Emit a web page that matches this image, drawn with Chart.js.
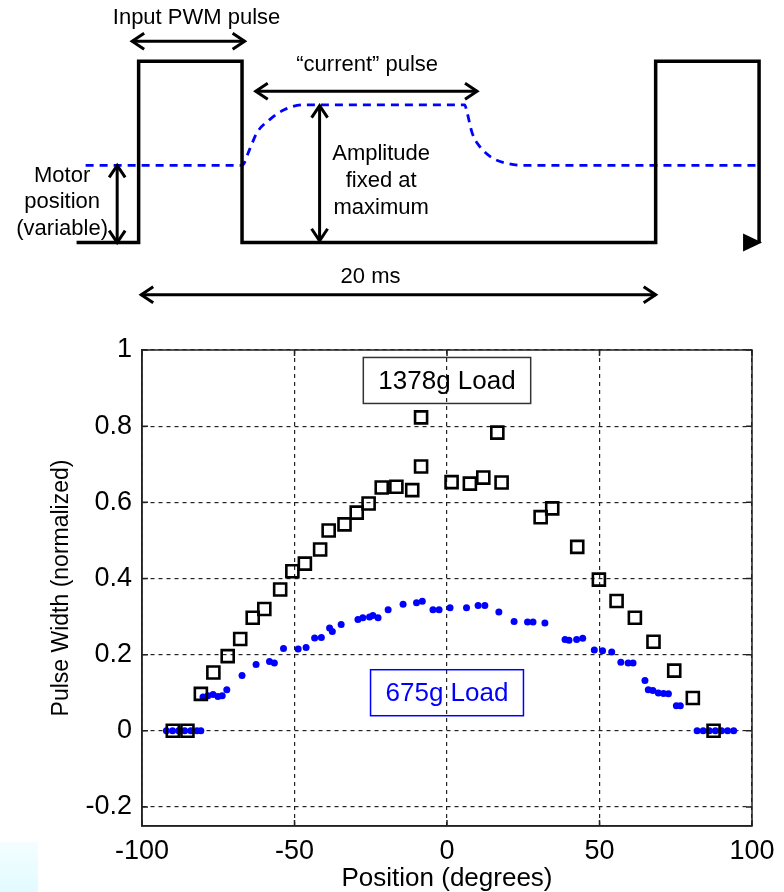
<!DOCTYPE html>
<html lang="en">
<head>
<meta charset="UTF-8">
<title>Servo pulse width vs position</title>
<script src="https://cdn.jsdelivr.net/npm/chart.js"></script>
<style>
  html, body { margin: 0; padding: 0; background: #fff; }
  body { width: 784px; height: 892px; position: relative; overflow: hidden; }
  #wave { position: absolute; left: 0; top: 0; }
  #plot { position: absolute; left: 0; top: 310px; }
  .corner { position: absolute; left: 0; top: 842px; width: 38px; height: 50px; background: linear-gradient(#f4feff, #e2fbff); }
</style>
</head>
<body>
<div class="corner"></div>
<canvas id="wave" width="784" height="310"></canvas>
<canvas id="plot" width="784" height="582"></canvas>
<script>
// --- timing diagram (time in ms, normalized level) ---
const pwmTime  = [-2.4, 0, 0, 4, 4, 20, 20, 24, 24];
const pwmLevel = [0, 0, 1, 1, 0, 0, 1, 1, 0];
const currentTime  = [-2.05, 4.0, 4.29, 4.58, 5.07, 5.65, 6.42, 12.61, 12.71, 12.9, 13.19, 13.68, 14.16, 14.84, 24.0];
const currentLevel = [0.426, 0.426, 0.513, 0.607, 0.678, 0.734, 0.76, 0.76, 0.715, 0.605, 0.531, 0.467, 0.44, 0.426, 0.426];

// --- measured pulse width vs position ---
const heavyPos   = [-89.9, -85.1, -80.7, -76.6, -71.9, -67.8, -63.7, -59.9, -54.7, -50.7, -46.6, -41.6, -38.8, -33.6, -29.6, -25.7, -21.4, -16.6, -11.4, -8.5, -8.5, 1.5, 7.5, 11.9, 16.5, 17.9, 30.7, 34.5, 42.7, 49.8, 55.6, 61.6, 67.7, 74.5, 80.6, 87.4];
const heavyWidth = [0, 0, 0.097, 0.153, 0.196, 0.241, 0.297, 0.320, 0.371, 0.419, 0.439, 0.476, 0.526, 0.542, 0.573, 0.597, 0.639, 0.641, 0.632, 0.694, 0.823, 0.653, 0.649, 0.665, 0.783, 0.652, 0.561, 0.584, 0.483, 0.397, 0.341, 0.297, 0.234, 0.158, 0.086, 0];
const lightPos   = [-92, -90, -88, -86, -84, -82, -80.7, -80, -78.4, -76.7, -75.1, -73.7, -72.2, -67.2, -62.6, -58.2, -56.6, -53.6, -48.8, -46.2, -43.4, -41.2, -38.5, -37.6, -34.7, -29.2, -27.6, -25.4, -24.3, -22.6, -19.3, -14.4, -10.0, -8.1, -4.6, -2.6, 1.0, 6.4, 10.2, 12.4, 17.0, 22.0, 26.4, 28.2, 32.1, 38.7, 40.0, 42.5, 44.5, 48.3, 51.0, 54.0, 57.0, 59.4, 61.0, 64.9, 66.0, 67.5, 69.3, 71.0, 72.6, 75.2, 76.5, 82, 84, 86, 88, 90, 92, 94];
const lightWidth = [0, 0, 0, 0, 0, 0, 0, 0.089, 0.092, 0.095, 0.090, 0.092, 0.108, 0.145, 0.174, 0.182, 0.178, 0.216, 0.215, 0.219, 0.244, 0.245, 0.270, 0.261, 0.279, 0.292, 0.297, 0.299, 0.303, 0.297, 0.318, 0.332, 0.336, 0.340, 0.318, 0.318, 0.323, 0.323, 0.329, 0.329, 0.312, 0.287, 0.286, 0.286, 0.283, 0.240, 0.238, 0.240, 0.243, 0.212, 0.210, 0.207, 0.180, 0.178, 0.178, 0.132, 0.108, 0.106, 0.099, 0.098, 0.097, 0.066, 0.066, 0, 0, 0, 0, 0, 0, 0];
const posTicks   = [-100, -50, 0, 50, 100];
const widthTicks = [-0.2, 0, 0.2, 0.4, 0.6, 0.8, 1];

const FONT = "'Liberation Sans', Arial, Helvetica, sans-serif";
const BLUE = '#0000ff';

const pts = (xs, ys) => xs.map((x, i) => ({ x: x, y: ys[i] }));

// arrow helpers
function head(ctx, x, y, ang) {
  const L = 12, W = 8;
  ctx.beginPath();
  ctx.moveTo(x - L * Math.cos(ang) + W * Math.sin(ang), y - L * Math.sin(ang) - W * Math.cos(ang));
  ctx.lineTo(x, y);
  ctx.lineTo(x - L * Math.cos(ang) - W * Math.sin(ang), y - L * Math.sin(ang) + W * Math.cos(ang));
  ctx.stroke();
}
function dblArrow(ctx, x1, y1, x2, y2) {
  ctx.beginPath(); ctx.moveTo(x1, y1); ctx.lineTo(x2, y2); ctx.stroke();
  const a = Math.atan2(y2 - y1, x2 - x1);
  head(ctx, x2, y2, a);
  head(ctx, x1, y1, a + Math.PI);
}

// labels + arrows of the timing diagram, placed in data units
const waveNotes = {
  id: 'waveNotes',
  afterDatasetsDraw(chart) {
    const { ctx, scales: { x, y } } = chart;
    const px = t => x.getPixelForValue(t);
    const py = v => y.getPixelForValue(v);
    ctx.save();
    ctx.strokeStyle = '#000';
    ctx.fillStyle = '#000';
    ctx.lineWidth = 3;
    ctx.lineCap = 'butt';
    dblArrow(ctx, px(-0.25), py(1.11), px(4.1), py(1.11));
    dblArrow(ctx, px(4.53), py(0.834), px(13.09), py(0.834));
    dblArrow(ctx, px(7.0), py(0.01), px(7.0), py(0.755));
    dblArrow(ctx, px(-0.83), py(0.0), px(-0.83), py(0.426));
    dblArrow(ctx, px(0.1), py(-0.287), px(20.0), py(-0.287));

    // arrow head at end of time axis
    const tx = px(24) + 3, ty = py(0);
    ctx.beginPath();
    ctx.moveTo(tx, ty);
    ctx.lineTo(tx - 19, ty - 9);
    ctx.lineTo(tx - 19, ty + 9);
    ctx.closePath();
    ctx.fill();

    ctx.font = '22px ' + FONT;
    ctx.textAlign = 'center';
    ctx.textBaseline = 'middle';
    ctx.fillText('Input PWM pulse', px(2.24), py(1.241));
    ctx.fillText('\u201ccurrent\u201d pulse', px(8.84), py(0.978));
    ctx.fillText('Amplitude', px(9.38), py(0.491));
    ctx.fillText('fixed at', px(9.38), py(0.338));
    ctx.fillText('maximum', px(9.38), py(0.191));
    ctx.fillText('Motor', px(-2.96), py(0.366));
    ctx.fillText('position', px(-2.96), py(0.224));
    ctx.fillText('(variable)', px(-2.96), py(0.077));
    ctx.fillText('20 ms', px(8.97), py(-0.191));
    ctx.restore();
  }
};

new Chart(document.getElementById('wave'), {
  type: 'scatter',
  data: {
    datasets: [
      {
        data: pts(pwmTime, pwmLevel),
        showLine: true, borderColor: '#000', borderWidth: 3.5,
        pointRadius: 0, tension: 0, borderJoinStyle: 'miter'
      },
      {
        data: pts(currentTime, currentLevel),
        showLine: true, borderColor: BLUE, borderWidth: 2.8, borderDash: [8, 6],
        pointRadius: 0, cubicInterpolationMode: 'monotone'
      }
    ]
  },
  options: {
    responsive: false, animation: false, events: [],
    layout: { padding: { left: 74, right: 12, top: 25, bottom: 13 } },
    plugins: { legend: { display: false }, tooltip: { enabled: false } },
    scales: {
      x: { type: 'linear', display: false, min: -2.5, max: 24.5 },
      y: { type: 'linear', display: false, min: -0.3, max: 1.2 }
    }
  },
  plugins: [waveNotes]
});

// box around the axes with small inward ticks (matlab style)
const frame = {
  id: 'frame',
  afterDraw(chart) {
    const { ctx, chartArea: a, scales: { x, y } } = chart;
    ctx.save();
    ctx.strokeStyle = '#222';
    ctx.lineWidth = 1.5;
    ctx.strokeRect(a.left, a.top, a.right - a.left, a.bottom - a.top);
    ctx.beginPath();
    posTicks.forEach(v => {
      const p = x.getPixelForValue(v);
      ctx.moveTo(p, a.bottom); ctx.lineTo(p, a.bottom - 6);
      ctx.moveTo(p, a.top); ctx.lineTo(p, a.top + 6);
    });
    widthTicks.forEach(v => {
      const p = y.getPixelForValue(v);
      ctx.moveTo(a.left, p); ctx.lineTo(a.left + 6, p);
      ctx.moveTo(a.right, p); ctx.lineTo(a.right - 6, p);
    });
    ctx.stroke();
    ctx.restore();
  }
};

// the two "Load" text boxes
const loadBoxes = {
  id: 'loadBoxes',
  afterDatasetsDraw(chart) {
    const { ctx, scales: { x, y } } = chart;
    const boxes = [
      { text: '1378g Load', x: 0, y: 0.92, color: '#000', edge: '#333' },
      { text: '675g Load', x: 0, y: 0.1, color: BLUE, edge: BLUE }
    ];
    ctx.save();
    ctx.font = '26px ' + FONT;
    ctx.textAlign = 'center';
    ctx.textBaseline = 'middle';
    boxes.forEach(b => {
      const cx = x.getPixelForValue(b.x), cy = y.getPixelForValue(b.y);
      const w = ctx.measureText(b.text).width + 30, h = 46;
      ctx.strokeStyle = b.edge;
      ctx.lineWidth = 1.5;
      ctx.strokeRect(cx - w / 2, cy - h / 2, w, h);
      ctx.fillStyle = b.color;
      ctx.fillText(b.text, cx, cy + 1);
    });
    ctx.restore();
  }
};

new Chart(document.getElementById('plot'), {
  type: 'scatter',
  data: {
    datasets: [
      {
        label: '1378g Load',
        data: pts(heavyPos, heavyWidth),
        pointStyle: 'rect', pointRadius: 8.5, pointBorderWidth: 2.6,
        borderColor: '#000', backgroundColor: 'rgba(0,0,0,0)'
      },
      {
        label: '675g Load',
        data: pts(lightPos, lightWidth),
        pointRadius: 3.5, pointBorderWidth: 0,
        borderColor: BLUE, backgroundColor: BLUE
      }
    ]
  },
  options: {
    responsive: false, animation: false, events: [],
    layout: { padding: { top: 40, right: 32, left: 0, bottom: 0 } },
    plugins: { legend: { display: false }, tooltip: { enabled: false } },
    scales: {
      x: {
        type: 'linear', min: -100, max: 100,
        afterBuildTicks: s => { s.ticks = posTicks.map(v => ({ value: v })); },
        afterFit: s => { s.height = 66; },
        grid: { color: '#222', lineWidth: 1.2, drawTicks: false },
        border: { color: '#222', width: 1.5, dash: [4, 4] },
        ticks: { color: '#000', padding: 9, maxRotation: 0, font: { family: FONT, size: 27 }, callback: v => String(v) },
        title: { display: true, text: 'Position (degrees)', color: '#000', font: { family: FONT, size: 26, lineHeight: 1 }, padding: { top: 0, bottom: 0 } }
      },
      y: {
        type: 'linear', min: -0.25, max: 1,
        afterBuildTicks: s => { s.ticks = widthTicks.map(v => ({ value: v })); },
        afterFit: s => { s.width = 142; },
        grid: { color: '#222', lineWidth: 1.2, drawTicks: false },
        border: { color: '#222', width: 1.5, dash: [4, 4] },
        ticks: { color: '#000', padding: 10, font: { family: FONT, size: 27 }, callback: v => String(v) },
        title: { display: true, text: 'Pulse Width (normalized)', color: '#000', font: { family: FONT, size: 23, lineHeight: 1 }, padding: { top: 50, bottom: 0 } }
      }
    }
  },
  plugins: [frame, loadBoxes]
});
</script>
</body>
</html>
